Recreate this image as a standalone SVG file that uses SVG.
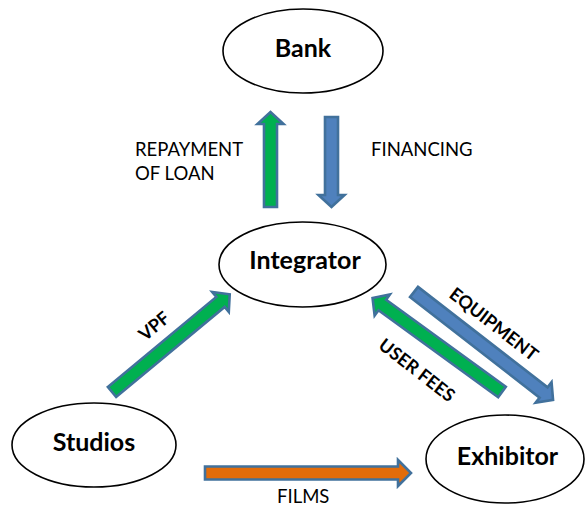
<svg xmlns="http://www.w3.org/2000/svg" width="585" height="508" viewBox="0 0 585 508">
<style>
.node{fill:#fff;stroke:#000;stroke-width:1.6}
.nl{font-family:Lato,"Open Sans",sans-serif;font-weight:bold;font-size:25px;fill:#000;text-anchor:middle}
.lbl{font-family:Lato,"Open Sans",sans-serif;font-size:18.5px;fill:#000}
.rl{font-family:Lato,"Open Sans",sans-serif;font-weight:bold;font-size:18px;fill:#000;text-anchor:middle}
.arr{stroke:#41719C;stroke-width:2.6;stroke-linejoin:miter}
.g{fill:#00B050}
.b{fill:#4F81BD}
.o{fill:#E36C0A}
</style>
<rect width="585" height="508" fill="#fff"/>
<g id="connectors">
<path class="arr g" transform="translate(270.5,207) rotate(-90)" d="M0,-6.5 L83,-6.5 L83,-13 L95,0 L83,13 L83,6.5 L0,6.5 Z"/>
<path class="arr b" transform="translate(331.5,117) rotate(90)" d="M0,-6.5 L78,-6.5 L78,-13 L90,0 L78,13 L78,6.5 L0,6.5 Z"/>
<path class="arr g" transform="translate(112,392) rotate(-39.7)" d="M0,-6.5 L141,-6.5 L141,-13 L153,0 L141,13 L141,6.5 L0,6.5 Z"/>
<path class="arr b" transform="translate(414,292) rotate(37.8)" d="M0,-6.5 L164,-6.5 L164,-13 L176,0 L164,13 L164,6.5 L0,6.5 Z"/>
<path class="arr g" transform="translate(502,392) rotate(-144)" d="M0,-6.5 L148,-6.5 L148,-13 L160,0 L148,13 L148,6.5 L0,6.5 Z"/>
<path class="arr o" transform="translate(205,473)" d="M0,-6.5 L193,-6.5 L193,-13 L206,0 L193,13 L193,6.5 L0,6.5 Z"/>
<text class="lbl" x="135" y="156">REPAYMENT</text>
<text class="lbl" x="135" y="180">OF LOAN</text>
<text class="lbl" x="371" y="156">FINANCING</text>
<text class="lbl" x="277" y="503">FILMS</text>
<text class="rl" transform="translate(154,326) rotate(-39.7)" y="6.5">VPF</text>
<text class="rl" transform="translate(494,324) rotate(37.8)" y="6.5">EQUIPMENT</text>
<text class="rl" transform="translate(417,370) rotate(37.8)" y="6.5">USER FEES</text>
</g>
<g id="bank"><ellipse class="node" cx="303" cy="51" rx="80" ry="42"/><text class="nl" x="303" y="57">Bank</text></g>
<g id="integrator"><ellipse class="node" cx="302.5" cy="264.5" rx="83.5" ry="42.5"/><text class="nl" x="305" y="269">Integrator</text></g>
<g id="studios"><ellipse class="node" cx="94" cy="445" rx="82" ry="42"/><text class="nl" x="94" y="451">Studios</text></g>
<g id="exhibitor"><ellipse class="node" cx="505" cy="459" rx="79" ry="44"/><text class="nl" x="507.5" y="465">Exhibitor</text></g>
</svg>
